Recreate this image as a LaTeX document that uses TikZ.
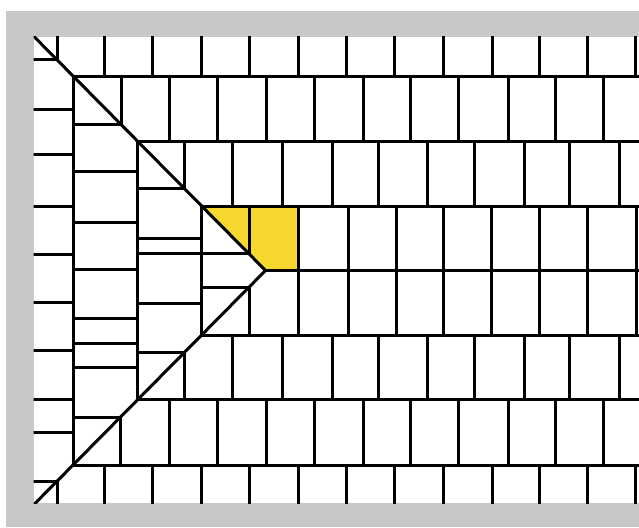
\documentclass[tikz,border=0pt]{standalone}
\definecolor{framegray}{RGB}{200,200,200}
\definecolor{tileyellow}{RGB}{247,216,47}
\begin{document}
\begin{tikzpicture}[x=1pt,y=-1pt,
  joint/.style={line width=3pt,black},
  highlight/.style={fill=tileyellow}]
\useasboundingbox (0,0) rectangle (639,527);
\fill[white] (0,0) rectangle (639,527);
\fill[framegray] (6,11) rectangle (639,527);
\fill[white] (33.5,37) rectangle (639,503);
% miter meeting points
\coordinate (A)  at (265.5,270.5);
\coordinate (P1) at (57,59.8);
\coordinate (P2) at (121,124.5);
\coordinate (P3) at (184,188.1);
\coordinate (P4) at (249,253.8);
\coordinate (Q1) at (57,481.2);
\coordinate (Q2) at (120.5,417);
\coordinate (Q3) at (184,352.8);
\coordinate (Q4) at (249,287.2);
\coordinate (UL) at (20,22.4);
\coordinate (LL) at (20,518.6);
\begin{scope}
\clip (33.5,37) rectangle (639,503);
% yellow tiles
\fill[highlight] (201,206) -- (298,206) -- (298,270.5) -- (A) -- cycle;
% row joints (vertical)
\foreach \x in {104,152,201,249,298,346,394,443,492,539,587,635}{
  \draw[joint] (\x,30) -- (\x,76);
  \draw[joint] (\x,465) -- (\x,510);}
\foreach \x in {169,217,266,314,363,410,458,508,555,603}{
  \draw[joint] (\x,76) -- (\x,141.5);
  \draw[joint] (\x,399.5) -- (\x,465);}
\foreach \x in {232,282,332,378,427,474,524,569,619}{
  \draw[joint] (\x,141.5) -- (\x,206);
  \draw[joint] (\x,335) -- (\x,399.5);}
\foreach \x in {298,348,396,443,491,539,587,636}{
  \draw[joint] (\x,206) -- (\x,270.5);
  \draw[joint] (\x,270.5) -- (\x,335);}
% partial joints meeting the miter
\draw[joint] (57,30) -- (P1) -- (30,59.8);
\draw[joint] (121,76) -- (P2) -- (73,124.5);
\draw[joint] (184,141.5) -- (P3) -- (137,188.1);
\draw[joint] (249,206) -- (P4) -- (137,253.8);
\draw[joint] (57,510) -- (Q1) -- (30,481.2);
\draw[joint] (120.5,465) -- (Q2) -- (73,417);
\draw[joint] (184,399.5) -- (Q3) -- (137,352.8);
\draw[joint] (249,335) -- (Q4) -- (201,287.2);
% column joints (horizontal)
\foreach \y in {109,154,206,254,302,350,399,432}
  \draw[joint] (30,\y) -- (73,\y);
\foreach \y in {171,222,269,318,343,367}
  \draw[joint] (73,\y) -- (137,\y);
\foreach \y in {238,303}
  \draw[joint] (137,\y) -- (201,\y);
% course lines
\draw[joint] (73,76) -- (645,76);
\draw[joint] (137,141.5) -- (645,141.5);
\draw[joint] (201,206) -- (645,206);
\draw[joint] (A) -- (645,270.5);
\draw[joint] (201,335) -- (645,335);
\draw[joint] (137,399.5) -- (645,399.5);
\draw[joint] (73,465) -- (645,465);
% column lines
\draw[joint] (73,76) -- (73,465);
\draw[joint] (137,141.5) -- (137,399.5);
\draw[joint] (201,206) -- (201,335);
% miter diagonals
\draw[joint,line join=miter] (UL) -- (A) -- (LL);
\end{scope}
\end{tikzpicture}
\end{document}
